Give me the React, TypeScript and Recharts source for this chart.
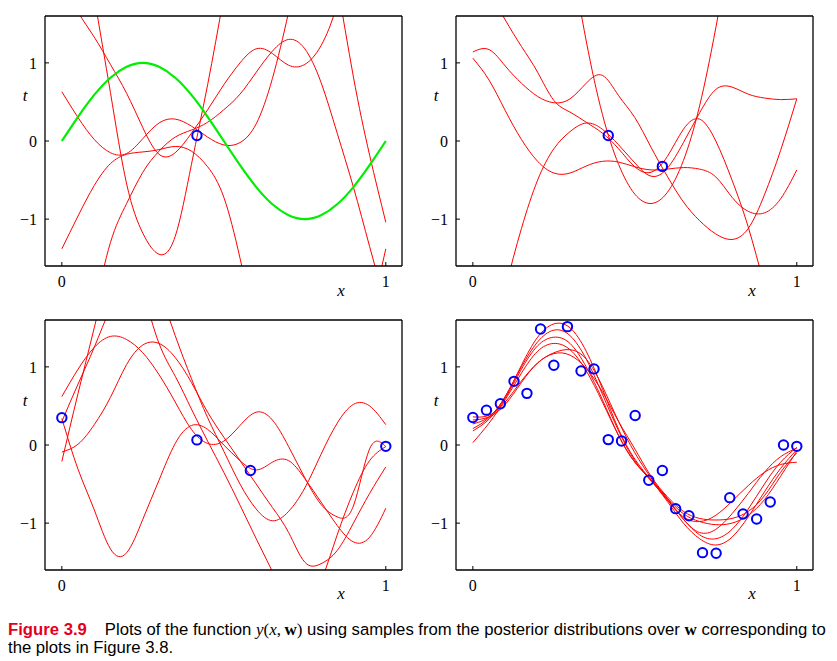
import React from "react";
import { ComposedChart, Line, Scatter, XAxis, YAxis } from "recharts";

// shared x grid for every curve (0 .. 1, step 0.05)
const X_GRID = [0, 0.05, 0.1, 0.15, 0.2, 0.25, 0.3, 0.35, 0.4, 0.45, 0.5, 0.55, 0.6, 0.65, 0.7, 0.75, 0.8, 0.85, 0.9, 0.95, 1];
const X_TICKS = [0, 1];
const Y_TICKS = [-1, 0, 1];
const X_DOMAIN: [number, number] = [-0.052, 1.05];
const Y_DOMAIN: [number, number] = [-1.6, 1.6];

// top left: one observation
const TL_TRUE = [0, 0.31, 0.59, 0.81, 0.95, 1, 0.95, 0.81, 0.59, 0.31, 0, -0.31, -0.59, -0.81, -0.95, -1, -0.95, -0.81, -0.59, -0.31, 0];
const TL_S1 = [0.63, 0.3, 0.02, -0.15, -0.16, 0.03, 0.23, 0.28, 0.19, 0.05, -0.05, -0.02, 0.22, 0.8, 1.65, 2.6, 3.5, null, null, null, null];
const TL_S2 = [-1.38, -0.96, -0.57, -0.29, -0.17, -0.14, -0.11, -0.07, -0.13, -0.33, -0.72, -1.5, -2.4, -3.1, -3.7, -4.1, -4.2, -3.9, -3.2, -2.3, -1.38];
const TL_S3 = [2.05, 1.65, 1.33, 0.98, 0.61, 0.17, -0.17, -0.15, 0.1, 0.4, 0.72, 1.0, 1.18, 1.12, 0.97, 0.98, 1.22, 1.75, 2.6, 3.5, 4.4];
const TL_S4 = [4.6, 3.2, 1.85, 0.62, -0.55, -1.18, -1.45, -1.22, -0.3, 0.72, 1.85, 3.0, null, null, null, null, null, null, null, null, null];
const TL_S5 = [-4.5, -3.3, -2.2, -1.3, -0.8, -0.4, -0.13, 0.05, 0.14, 0.24, 0.4, 0.6, 0.88, 1.15, 1.3, 1.18, 0.75, 0.1, -0.59, -1.35, -2.1];
const TL_S6 = [null, null, null, null, null, null, null, null, null, null, null, null, null, null, null, 4.0, 3.0, 2.0, 0.82, -0.18, -1.04];
const TL_OBS_X = [0.417];
const TL_OBS_T = [0.07];

// top right: two observations
const TR_S1 = [1.14, 1.17, 0.96, 0.74, 0.57, 0.49, 0.54, 0.74, 0.84, 0.58, 0.3, -0.08, -0.45, -0.78, -1.02, -1.19, -1.26, -1.12, -0.69, -0.12, 0.54];
const TR_S2 = [1.06, 0.78, 0.39, 0.02, -0.26, -0.41, -0.41, -0.32, -0.26, -0.27, -0.33, -0.37, -0.36, -0.34, -0.36, -0.46, -0.72, -0.9, -0.92, -0.74, -0.37];
const TR_S3 = [2.2, 1.9, 1.55, 1.21, 0.88, 0.52, 0.37, 0.24, 0.1, -0.1, -0.33, -0.4, -0.2, 0.15, 0.28, 0.0, -0.5, -1.1, -1.85, -2.6, -3.3];
const TR_S4 = [-3.7, -2.8, -1.9, -1.12, -0.5, -0.1, 0.12, 0.23, 0.15, -0.05, -0.28, -0.45, -0.35, -0.02, 0.36, 0.66, 0.69, 0.6, 0.55, 0.53, 0.54];
const TR_S5 = [null, null, null, null, null, 4.0, 2.5, 1.28, 0.34, -0.3, -0.68, -0.8, -0.66, -0.25, 0.45, 1.45, 2.6, null, null, null, null];
const TR_OBS_X = [0.418, 0.585];
const TR_OBS_T = [0.07, -0.325];

// bottom left: four observations
const BL_S1 = [0.62, 0.97, 1.25, 1.39, 1.35, 1.18, 0.9, 0.55, 0.2, 0.02, 0.05, 0.25, 0.42, 0.32, -0.02, -0.42, -0.76, -0.92, -0.78, -0.05, -0.02];
const BL_S2 = [-0.09, 0.01, 0.26, 0.61, 1.03, 1.28, 1.3, 1.12, 0.8, 0.42, 0.1, -0.2, -0.5, -0.8, -1.12, -1.5, -1.52, -1.35, -1.0, -0.62, -0.28];
const BL_S3 = [0.34, -0.31, -0.83, -1.33, -1.38, -0.95, -0.45, 0.02, 0.25, 0.2, 0.0, -0.2, -0.32, -0.22, -0.2, -0.43, -0.73, -1.03, -1.24, -1.18, -0.81];
const BL_S4 = [-0.21, 0.66, 1.5, 2.3, 2.6, 2.0, 1.3, 0.88, 0.46, 0.05, -0.35, -0.77, -1.2, -1.62, -2.0, -2.1, -1.75, -1.15, -0.6, -0.2, -0.02];
const BL_S5 = [0.3, 0.78, 1.25, 1.75, 2.1, 2.2, 1.95, 1.4, 0.85, 0.35, -0.08, -0.5, -0.82, -0.97, -0.85, -0.55, -0.12, 0.28, 0.52, 0.5, 0.26];
const BL_OBS_X = [0, 0.417, 0.582, 1.0];
const BL_OBS_T = [0.35, 0.065, -0.326, -0.017];

// bottom right: 25 observations
const BR_S1 = [0.27, 0.36, 0.62, 1.02, 1.38, 1.55, 1.5, 1.2, 0.72, 0.2, -0.18, -0.45, -0.72, -1.0, -1.2, -1.28, -1.18, -0.92, -0.6, -0.3, -0.06];
const BR_S2 = [0.21, 0.35, 0.62, 1.0, 1.32, 1.47, 1.4, 1.1, 0.65, 0.18, -0.2, -0.46, -0.7, -0.95, -1.15, -1.2, -1.08, -0.82, -0.5, -0.22, -0.03];
const BR_S3 = [0.18, 0.33, 0.6, 0.97, 1.27, 1.38, 1.3, 1.0, 0.58, 0.12, -0.22, -0.44, -0.68, -0.95, -1.12, -1.08, -0.88, -0.62, -0.35, -0.15, -0.04];
const BR_S4 = [0.03, 0.28, 0.58, 0.92, 1.2, 1.3, 1.22, 0.95, 0.55, 0.12, -0.22, -0.45, -0.68, -0.88, -0.98, -1.02, -1.0, -0.9, -0.7, -0.4, -0.08];
const BR_S5 = [0.32, 0.36, 0.52, 0.8, 1.05, 1.18, 1.22, 1.1, 0.75, 0.3, -0.1, -0.42, -0.7, -0.92, -0.98, -0.9, -0.72, -0.52, -0.35, -0.25, -0.22];
const BR_S6 = [0.36, 0.38, 0.55, 0.82, 1.05, 1.17, 1.15, 0.98, 0.68, 0.3, -0.05, -0.4, -0.66, -0.85, -0.94, -0.96, -0.94, -0.85, -0.65, -0.35, -0.1];
const BR_OBS_X = [0, 0.042, 0.085, 0.127, 0.167, 0.209, 0.25, 0.292, 0.334, 0.374, 0.418, 0.459, 0.501, 0.543, 0.585, 0.626, 0.667, 0.709, 0.751, 0.793, 0.834, 0.876, 0.918, 0.959, 1.0];
const BR_OBS_T = [0.352, 0.446, 0.528, 0.815, 0.661, 1.485, 1.021, 1.515, 0.948, 0.974, 0.069, 0.052, 0.378, -0.451, -0.326, -0.815, -0.906, -1.378, -1.386, -0.674, -0.884, -0.948, -0.73, 0.0, -0.017];

const RED = "#ff0000";
const GREEN = "#00ee00";
const BLUE = "#0000ff";
const SERIF = '"Liberation Serif", "Times New Roman", serif';
const SANS = '"Liberation Sans", Arial, sans-serif';

type Curve = { values: (number | null)[]; color?: string; width?: number };

type PanelProps = {
  left: number;
  top: number;
  curves: Curve[];
  obsX: number[];
  obsT: number[];
};

const fmtTick = (v: number) => (v < 0 ? `\u2212${-v}` : `${v}`);

function Circle(props: any) {
  const { cx, cy } = props;
  if (cx == null || cy == null) return null;
  return <circle cx={cx} cy={cy} r={4.7} fill="none" stroke={BLUE} strokeWidth={2} />;
}

function Panel({ left, top, curves, obsX, obsT }: PanelProps) {
  const rows = X_GRID.map((x, i) => {
    const row: Record<string, number | null> = { x };
    curves.forEach((c, k) => {
      row[`s${k}`] = c.values[i];
    });
    return row;
  });
  const points = obsX.map((x, i) => ({ x, t: obsT[i] }));
  const axisLine = { stroke: "#000", strokeWidth: 1.3 };
  const tickLine = { stroke: "#000", strokeWidth: 1 };
  const tickFont = { fill: "#000", fontSize: 16, fontFamily: SERIF };

  return (
    <div style={{ position: "absolute", left, top }}>
      <ComposedChart width={410} height={306} data={rows} margin={{ top: 15, right: 7, bottom: 0, left: 0 }}>
        <XAxis
          dataKey="x"
          type="number"
          domain={X_DOMAIN}
          ticks={X_TICKS}
          allowDataOverflow
          height={40}
          tickSize={-4}
          tickMargin={14}
          axisLine={axisLine}
          tickLine={tickLine}
          tick={tickFont}
          tickFormatter={fmtTick}
        />
        <XAxis
          xAxisId="top"
          orientation="top"
          dataKey="x"
          type="number"
          domain={X_DOMAIN}
          ticks={X_TICKS}
          allowDataOverflow
          height={1}
          tickSize={-4}
          axisLine={axisLine}
          tickLine={tickLine}
          tick={false}
        />
        <YAxis
          type="number"
          domain={Y_DOMAIN}
          ticks={Y_TICKS}
          allowDataOverflow
          width={45}
          tickSize={-4}
          tickMargin={12}
          axisLine={axisLine}
          tickLine={tickLine}
          tick={tickFont}
          tickFormatter={fmtTick}
        />
        <YAxis
          yAxisId="right"
          orientation="right"
          type="number"
          domain={Y_DOMAIN}
          ticks={Y_TICKS}
          allowDataOverflow
          width={1}
          tickSize={-4}
          axisLine={axisLine}
          tickLine={tickLine}
          tick={false}
        />
        {curves.map((c, k) => (
          <Line
            key={k}
            dataKey={`s${k}`}
            type="natural"
            stroke={c.color ?? RED}
            strokeWidth={c.width ?? 1}
            dot={false}
            activeDot={false}
            connectNulls={false}
            isAnimationActive={false}
          />
        ))}
        <Scatter data={points} dataKey="t" shape={<Circle />} isAnimationActive={false} />
      </ComposedChart>
    </div>
  );
}

function AxisLabel({ x, y, text }: { x: number; y: number; text: string }) {
  return (
    <span
      style={{
        position: "absolute",
        left: x,
        top: y,
        transform: "translate(-50%, -50%)",
        fontFamily: SERIF,
        fontStyle: "italic",
        fontSize: 17,
        lineHeight: 1,
        color: "#000",
      }}
    >
      {text}
    </span>
  );
}

export default function App() {
  return (
    <div
      style={{
        position: "absolute",
        left: 0,
        top: 0,
        width: 837,
        height: 661,
        background: "#fff",
        overflow: "hidden",
      }}
    >
      <Panel
        left={0}
        top={0}
        curves={[
          { values: TL_S1 },
          { values: TL_S2 },
          { values: TL_S3 },
          { values: TL_S4 },
          { values: TL_S5 },
          { values: TL_S6 },
          { values: TL_TRUE, color: GREEN, width: 2.2 },
        ]}
        obsX={TL_OBS_X}
        obsT={TL_OBS_T}
      />
      <Panel
        left={411}
        top={0}
        curves={[{ values: TR_S1 }, { values: TR_S2 }, { values: TR_S3 }, { values: TR_S4 }, { values: TR_S5 }]}
        obsX={TR_OBS_X}
        obsT={TR_OBS_T}
      />
      <Panel
        left={0}
        top={304}
        curves={[{ values: BL_S1 }, { values: BL_S2 }, { values: BL_S3 }, { values: BL_S4 }, { values: BL_S5 }]}
        obsX={BL_OBS_X}
        obsT={BL_OBS_T}
      />
      <Panel
        left={411}
        top={304}
        curves={[
          { values: BR_S1 },
          { values: BR_S2 },
          { values: BR_S3 },
          { values: BR_S4 },
          { values: BR_S5 },
          { values: BR_S6 },
        ]}
        obsX={BR_OBS_X}
        obsT={BR_OBS_T}
      />

      <AxisLabel x={25} y={95} text="t" />
      <AxisLabel x={436} y={95} text="t" />
      <AxisLabel x={25} y={400} text="t" />
      <AxisLabel x={436} y={400} text="t" />
      <AxisLabel x={341} y={290} text="x" />
      <AxisLabel x={752} y={290} text="x" />
      <AxisLabel x={341} y={593} text="x" />
      <AxisLabel x={752} y={593} text="x" />

      <div
        style={{
          position: "absolute",
          left: 8,
          top: 621,
          fontFamily: SANS,
          fontSize: 16.7,
          lineHeight: "18px",
          whiteSpace: "nowrap",
          color: "#000",
        }}
      >
        <span style={{ color: "#e3001b", fontWeight: "bold" }}>Figure 3.9</span>
        <span style={{ display: "inline-block", width: 18 }} />
        Plots of the function{" "}
        <span style={{ fontFamily: SERIF, fontSize: 17 }}>
          <i>y</i>(<i>x</i>,&thinsp;<b>w</b>)
        </span>{" "}
        using samples from the posterior distributions over{" "}
        <span style={{ fontFamily: SERIF, fontWeight: "bold", fontSize: 17 }}>w</span> corresponding to
        <br />
        the plots in Figure 3.8.
      </div>
    </div>
  );
}
